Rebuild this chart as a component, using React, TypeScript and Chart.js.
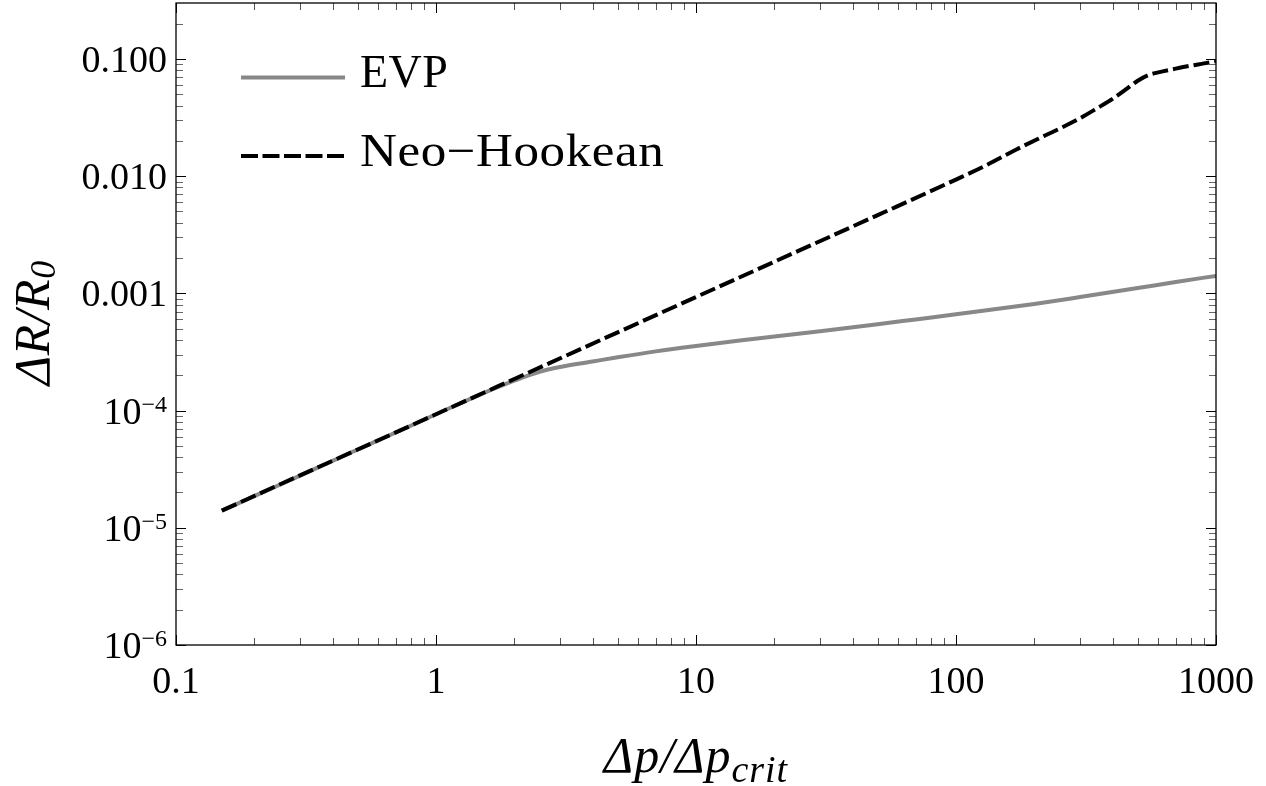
import React, { useEffect, useRef } from 'react';
import { Chart, registerables } from 'chart.js';

Chart.register(...registerables);

// ---- data ----
const EVP_X = [0.15, 0.2, 0.3, 0.5, 0.7, 1, 1.5, 2, 2.5, 3, 4, 5, 7, 10, 15, 20, 30, 50, 70, 100, 200, 300, 500, 700, 1000];
const EVP_Y = [1.4e-5, 1.86e-5, 2.79e-5, 4.65e-5, 6.5e-5, 9.3e-5, 1.39e-4, 1.8e-4, 2.14e-4, 2.35e-4, 2.62e-4, 2.85e-4, 3.2e-4, 3.56e-4, 3.98e-4, 4.28e-4, 4.75e-4, 5.45e-4, 5.99e-4, 6.62e-4, 8.12e-4, 9.3e-4, 1.11e-3, 1.25e-3, 1.41e-3];

const NH_X = [0.15, 0.3, 0.5, 1, 2, 5, 10, 20, 50, 100, 130, 170, 220, 260, 300, 350, 400, 450, 500, 550, 600, 700, 800, 900, 1000];
const NH_Y = [1.4e-5, 2.8e-5, 4.65e-5, 9.3e-5, 1.86e-4, 4.65e-4, 9.3e-4, 1.86e-3, 4.65e-3, 9.35e-3, 0.0123, 0.0168, 0.0222, 0.0265, 0.0312, 0.0381, 0.0456, 0.0549, 0.0652, 0.0729, 0.0768, 0.0826, 0.0876, 0.0916, 0.0957];

const SERIES_LABELS = ['EVP', 'Neo\u2212Hookean'];

const X_RANGE = [0.1, 1000];
const Y_RANGE = [1e-6, 0.3];

const X_MAJOR = [0.1, 1, 10, 100, 1000];
const X_TICK_LABELS = ['0.1', '1', '10', '100', '1000'];
const Y_MAJOR = [1e-6, 1e-5, 1e-4, 1e-3, 1e-2, 1e-1];
const Y_TICK_BASE = ['10', '10', '10', '0.001', '0.010', '0.100'];
const Y_TICK_EXP = ['\u22126', '\u22125', '\u22124', '', '', ''];
const MINOR_MULT = [2, 3, 4, 5, 6, 7, 8, 9];

const SERIF = '"Liberation Serif", "Times New Roman", serif';

type Run = { t: string; size: number; italic: boolean; dy: number; sp?: number };

function fontOf(r: Run) {
  return `${r.italic ? 'italic ' : ''}${r.size}px ${SERIF}`;
}

function drawRuns(ctx: CanvasRenderingContext2D, runs: Run[], x: number, baseline: number, align: 'left' | 'center' | 'right', sx = 1) {
  const c: any = ctx;
  const widths = runs.map((r) => {
    ctx.font = fontOf(r);
    c.letterSpacing = `${r.sp || 0}px`;
    return ctx.measureText(r.t).width;
  });
  const total = widths.reduce((a, b) => a + b, 0) * sx;
  let cx = align === 'left' ? x : align === 'center' ? x - total / 2 : x - total;
  ctx.textAlign = 'left';
  ctx.textBaseline = 'alphabetic';
  ctx.save();
  ctx.translate(cx, baseline);
  ctx.scale(sx, 1);
  let ox = 0;
  runs.forEach((r, i) => {
    ctx.font = fontOf(r);
    c.letterSpacing = `${r.sp || 0}px`;
    ctx.fillText(r.t, ox, r.dy);
    ox += widths[i];
  });
  ctx.restore();
  c.letterSpacing = '0px';
}

const framePlugin = {
  id: 'mmaFrame',
  afterDatasetsDraw(chart: any) {
    const ctx: CanvasRenderingContext2D = chart.ctx;
    const a = chart.chartArea;
    const xs = chart.scales.x;
    const ys = chart.scales.y;
    ctx.save();

    const minorX: number[] = [];
    X_MAJOR.slice(0, -1).forEach((d) => MINOR_MULT.forEach((m) => minorX.push(d * m)));
    const minorY: number[] = [];
    Y_MAJOR.forEach((d) => MINOR_MULT.forEach((m) => { if (d * m < Y_RANGE[1]) minorY.push(d * m); }));

    const drawXTick = (v: number, len: number, color: string) => {
      const px = Math.round(xs.getPixelForValue(v)) + 0.5;
      ctx.strokeStyle = color;
      ctx.beginPath();
      ctx.moveTo(px, a.bottom); ctx.lineTo(px, a.bottom - len);
      ctx.moveTo(px, a.top); ctx.lineTo(px, a.top + len);
      ctx.stroke();
    };
    const drawYTick = (v: number, len: number, color: string) => {
      const py = Math.round(ys.getPixelForValue(v)) + 0.5;
      ctx.strokeStyle = color;
      ctx.beginPath();
      ctx.moveTo(a.left, py); ctx.lineTo(a.left + len, py);
      ctx.moveTo(a.right, py); ctx.lineTo(a.right - len, py);
      ctx.stroke();
    };
    ctx.lineWidth = 1;
    minorX.forEach((v) => drawXTick(v, 7, '#555555'));
    minorY.forEach((v) => drawYTick(v, 7, '#666666'));
    X_MAJOR.forEach((v) => drawXTick(v, 10, '#000000'));
    Y_MAJOR.forEach((v) => drawYTick(v, 10, '#000000'));

    // frame
    ctx.strokeStyle = '#000';
    ctx.lineWidth = 1.3;
    ctx.strokeRect(a.left, a.top, a.right - a.left, a.bottom - a.top);

    ctx.fillStyle = '#000';
    // x tick labels
    X_MAJOR.forEach((v, i) => {
      const px = xs.getPixelForValue(v);
      drawRuns(ctx, [{ t: X_TICK_LABELS[i], size: 38, italic: false, dy: 0 }], px, a.bottom + 48, 'center');
    });
    // y tick labels
    Y_MAJOR.forEach((v, i) => {
      const py = ys.getPixelForValue(v);
      const runs: Run[] = [{ t: Y_TICK_BASE[i], size: 38, italic: false, dy: 0 }];
      if (Y_TICK_EXP[i]) runs.push({ t: Y_TICK_EXP[i], size: 24, italic: false, dy: -12 });
      drawRuns(ctx, runs, a.left - 9, py + 13, 'right');
    });

    // x axis title
    drawRuns(ctx, [
      { t: '\u0394p/\u0394p', size: 50, italic: true, dy: 0, sp: 1 },
      { t: 'crit', size: 38, italic: true, dy: 10, sp: 1 },
    ], (a.left + a.right) / 2, 772, 'center');

    // y axis title
    ctx.save();
    ctx.translate(0, 323);
    ctx.rotate(-Math.PI / 2);
    drawRuns(ctx, [
      { t: '\u0394R/R', size: 50, italic: true, dy: 0, sp: 0.5 },
      { t: '0', size: 36, italic: true, dy: 6 },
    ], 0, 49, 'center');
    ctx.restore();

    // legend
    const lx0 = 241, lx1 = 345;
    ctx.lineWidth = 4;
    ctx.strokeStyle = '#888888';
    ctx.setLineDash([]);
    ctx.beginPath(); ctx.moveTo(lx0, 77.5); ctx.lineTo(lx1, 77.5); ctx.stroke();
    ctx.strokeStyle = '#000000';
    ctx.setLineDash([17, 4.5]);
    ctx.beginPath(); ctx.moveTo(lx0, 156); ctx.lineTo(lx1, 156); ctx.stroke();
    ctx.setLineDash([]);
    drawRuns(ctx, [{ t: SERIES_LABELS[0], size: 46, italic: false, dy: 0, sp: 0.5 }], 360, 87, 'left');
    drawRuns(ctx, [{ t: SERIES_LABELS[1], size: 46, italic: false, dy: 0, sp: 0.5 }], 360, 166, 'left', 1.11);

    ctx.restore();
  },
};

export default function App() {
  const ref = useRef<HTMLCanvasElement>(null);
  useEffect(() => {
    document.body.style.margin = '0';
    const canvas = ref.current!;
    const chart = new Chart(canvas, {
      type: 'scatter',
      data: {
        datasets: [
          {
            label: SERIES_LABELS[1],
            data: NH_X.map((x, i) => ({ x, y: NH_Y[i] })),
            showLine: true,
            borderColor: '#000000',
            borderWidth: 4,
            borderDash: [16, 5],
            pointRadius: 0,
            cubicInterpolationMode: 'monotone',
            fill: false,
          } as any,
          {
            label: SERIES_LABELS[0],
            data: EVP_X.map((x, i) => ({ x, y: EVP_Y[i] })),
            showLine: true,
            borderColor: '#888888',
            borderWidth: 4,
            pointRadius: 0,
            cubicInterpolationMode: 'monotone',
            fill: false,
          } as any,
        ],
      },
      options: {
        responsive: false,
        animation: false,
        events: [],
        layout: { padding: { left: 176, top: 3, right: 50, bottom: 141 } },
        scales: {
          x: { type: 'logarithmic', min: X_RANGE[0], max: X_RANGE[1], display: false },
          y: { type: 'logarithmic', min: Y_RANGE[0], max: Y_RANGE[1], display: false },
        },
        plugins: { legend: { display: false }, tooltip: { enabled: false } },
      },
      plugins: [framePlugin],
    });
    return () => chart.destroy();
  }, []);
  return <canvas ref={ref} width={1266} height={786} style={{ display: 'block' }} />;
}
